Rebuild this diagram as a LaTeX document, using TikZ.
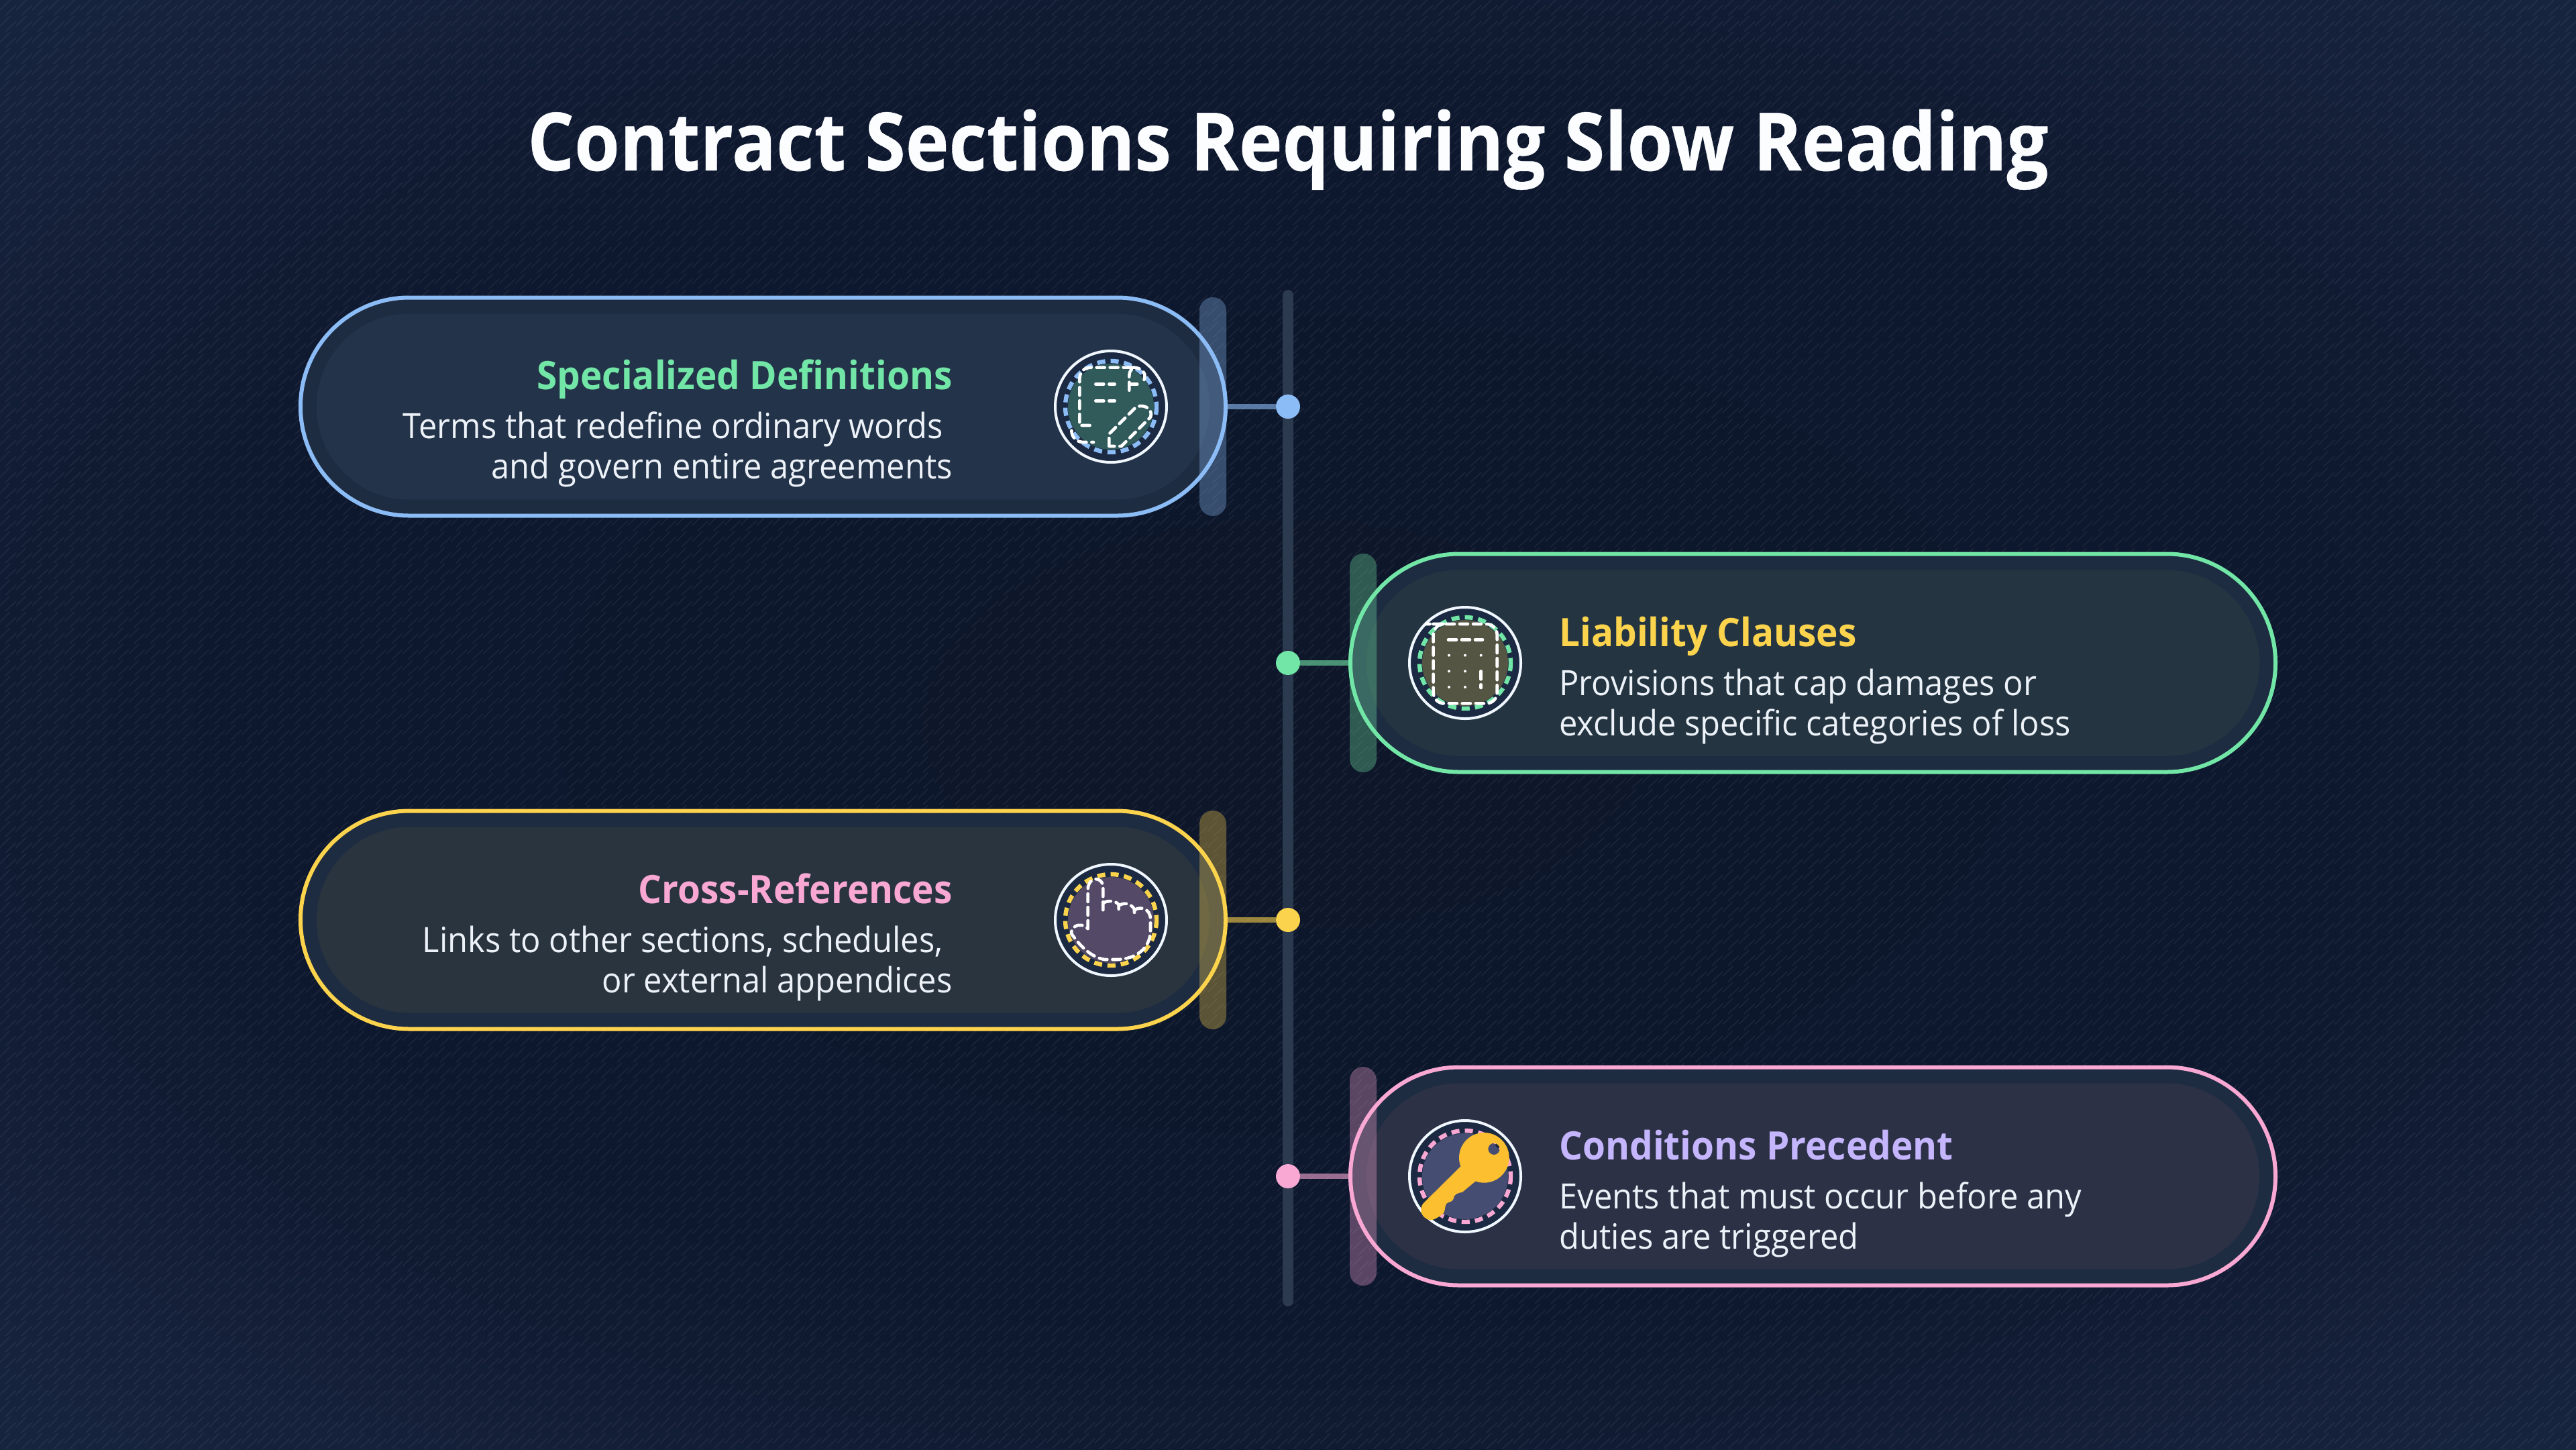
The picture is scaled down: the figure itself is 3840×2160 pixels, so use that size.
\documentclass[tikz,border=0pt]{standalone}
\usepackage{fontspec}
\setmainfont[FakeStretch=0.94]{Open Sans}
\newfontfamily\titlefont[FakeStretch=0.913,FakeBold=0.35]{Open Sans Bold}
\definecolor{rowblue}{HTML}{8CBCF5}
\definecolor{rowgreen}{HTML}{72E6A6}
\definecolor{rowyellow}{HTML}{FCD34D}
\definecolor{rowpink}{HTML}{F9A8D4}
\definecolor{rowpurple}{HTML}{C4B5FD}
\definecolor{pillouter}{HTML}{1E2C41}
\definecolor{innerblue}{HTML}{233349}
\definecolor{innergreen}{HTML}{243541}
\definecolor{inneryellow}{HTML}{2A343F}
\definecolor{innerpink}{HTML}{2C3146}
\definecolor{badgefill}{HTML}{1B2A42}
\definecolor{bodytext}{HTML}{EDF2F9}
\definecolor{keygold}{HTML}{FBBF2F}
\definecolor{bgmid}{HTML}{0E1629}
\definecolor{bgedge}{HTML}{0D172D}
\definecolor{bgring}{HTML}{15203A}
\definecolor{bgcorner}{HTML}{17243E}
\tikzstyle{pill}=[rectangle,rounded corners=81pt,minimum width=689.5pt,minimum height=162.5pt,line width=3pt,outer sep=0pt,inner sep=0pt,fill=pillouter]
\tikzstyle{pillcore}=[rectangle,rounded corners=69pt,minimum width=665.5pt,minimum height=138.5pt,outer sep=0pt,inner sep=0pt]
\tikzstyle{sidebar}=[rectangle,rounded corners=10pt,minimum width=20pt,minimum height=163pt,outer sep=0pt,inner sep=0pt,fill opacity=0.33]
\tikzstyle{dot}=[circle,minimum size=18pt,outer sep=0pt,inner sep=0pt]
\tikzstyle{badge}=[circle,minimum size=83pt,line width=2pt,outer sep=0pt,inner sep=0pt,draw=white!88!rowblue,fill=badgefill]
\tikzstyle{link}=[line width=4pt,draw opacity=0.6]
\tikzstyle{spine}=[line width=8pt,line cap=round,draw={rgb,255:red,44;green,58;blue,80}]
\tikzstyle{hatchline}=[line width=1pt,draw=white,draw opacity=0.05]
\tikzstyle{iconline}=[line width=2.3pt,draw=white,line cap=round,dash pattern=on 6pt off 4pt]
\tikzstyle{heading}=[inner sep=0pt,font=\fontsize{29.2}{32}\selectfont\bfseries]
\tikzstyle{copyline}=[inner sep=0pt,text=bodytext,font=\fontsize{26}{30}\selectfont]
\newcommand{\drawrow}[7]
{
  % index, row y, pill x, bar x, stroke, core fill, badge x
  \node[pill, draw=#5](pill#1) at (#3,#2){};
  \node[pillcore, fill=#6] at (#3,#2){};
  \node[sidebar, fill=#5] at (#4,#2){};
  \node[dot, fill=#5](dot#1) at (1920,#2){};
  \draw[link, draw=#5] (pill#1) -- (dot#1);
  \node[badge](badge#1) at (#7,#2){};
}
\newcommand{\drawring}[4]
{
  \fill[#3, fill opacity=0.26] (#1,#2) circle[radius=64];
  \draw[#4, line width=3.2pt, dash pattern=on 6pt off 4pt] (#1,#2) circle[radius=68];
}
% ellipse band: steps, outer colour, inner colour, inner radius, radius span
\newcommand{\drawband}[5]
{
  \foreach \k in {#1,...,1}{
    \pgfmathsetmacro{\mixval}{100*\k/#1}
    \pgfmathsetmacro{\rr}{#4+#5*\k/#1}
    \fill[#2!\mixval!#3] (1920,1080) ellipse[x radius={2716*\rr},y radius={1528*\rr}];
  }
}
\begin{document}
\begin{tikzpicture}[x=0.5pt,y=-0.5pt]
	\useasboundingbox (0,0) rectangle (3840,2160);
	\begin{scope}
		\clip (-10,-10) rectangle (3850,2170);
		\fill[bgcorner] (-10,-10) rectangle (3850,2170);
		% vignette, outside in
		\drawband{4}{bgcorner}{bgring}{0.88}{0.12}
		\drawband{12}{bgring}{bgedge}{0.6}{0.28}
		\drawband{3}{bgedge}{bgmid}{0}{0.6}
	\end{scope}
	% background hatch
	\foreach \j in {0,...,90}{
		\draw[hatchline] \foreach \i in {0,...,160}{
			({24*\i},{24*\j+15}) -- ({24*\i+15},{24*\j})
			({24*\i+8},{24*\j+23}) -- ({24*\i+24},{24*\j+8})
		};
	}

	\node[inner sep=0pt, anchor=base, text=white!97!rowblue, font=\fontsize{60}{64}\titlefont](title) at (1920,254) {Contract Sections Requiring Slow Reading};

	\coordinate (spinetop) at (1920,440);
	\coordinate (spineend) at (1920,1939);
	\draw[spine] (spinetop) -- (spineend);

	\drawrow{1}{606}{1137.5}{1808}{rowblue}{innerblue}{1656}
	\drawrow{2}{988}{2702.5}{2032}{rowgreen}{innergreen}{2184}
	\drawrow{3}{1371}{1137.5}{1808}{rowyellow}{inneryellow}{1656}
	\drawrow{4}{1753}{2702.5}{2032}{rowpink}{innerpink}{2184}

	\drawring{1656}{606}{rowgreen}{rowblue}
	\drawring{2184}{988}{rowyellow}{rowgreen}
	\drawring{1656}{1371}{rowpink}{rowyellow}
	\drawring{2184}{1753}{rowpurple}{rowpink}

	% document and pencil
	\begin{scope}[shift={(1520,480)},scale=1/3]
		\draw[iconline] (500,203) -- (320,203) .. controls (285,203) and (268,225) .. (268,255) -- (268,462) -- (335,462);
		\draw[iconline] (232,485) .. controls (232,515) and (255,537) .. (285,537) -- (330,537);
		\draw[iconline] (500,203) .. controls (550,200) and (575,235) .. (550,270);
		\draw[iconline] (490,305) -- (490,240) .. controls (490,220) and (500,205) .. (520,203);
		\draw[iconline] (490,278) -- (535,278);
		\draw[iconline] (340,278) -- (425,278);
		\draw[iconline] (340,352) -- (425,352);
		\draw[iconline] (400,555) -- (400,500) -- (515,385) .. controls (545,360) and (600,385) .. (585,425) -- (455,555) -- cycle;
	\end{scope}

	% calculator
	\begin{scope}[shift={(2060,860)},scale=1/3]
		\draw[iconline,rounded corners=8pt] (240,210) -- (515,210) -- (515,565) -- (230,565) -- (230,210) -- cycle;
		\draw[iconline] (297,280) -- (450,280);
		\foreach \cx/\cy in {300/350,372/350,443/350,300/421,372/421,300/492,372/492}
			\fill[white] (\cx,\cy) circle[radius=6];
		\draw[iconline] (443,421) -- (443,495);
	\end{scope}

	% pointing hand
	\begin{scope}[shift={(1520,1240)},scale=1/3]
		\draw[iconline] (305,432) -- (305,260) .. controls (305,195) and (373,195) .. (373,250) -- (373,360);
		\draw[iconline] (373,318) .. controls (390,305) and (430,305) .. (443,325) -- (443,360);
		\draw[iconline] (443,330) .. controls (460,315) and (495,315) .. (513,345) -- (513,378);
		\draw[iconline] (513,350) .. controls (535,330) and (585,340) .. (585,390) -- (585,440) .. controls (585,520) and (520,570) .. (430,570) -- (380,570) .. controls (320,560) and (270,510) .. (232,455) .. controls (225,430) and (265,395) .. (305,432);
	\end{scope}

	% key
	\begin{scope}[shift={(2060,1620)},scale=1/3]
		\fill[keygold] (352,355) -- (185,520) .. controls (165,545) and (175,580) .. (205,592) .. controls (225,600) and (245,588) .. (275,565) .. controls (285,550) and (280,530) .. (290,520) .. controls (300,512) and (315,515) .. (320,500) .. controls (322,480) and (335,475) .. (360,470) -- (420,420) -- cycle;
		\fill[keygold,even odd rule] (457,316) circle[radius=112] (501,277) circle[radius=26];
	\end{scope}

	\node[heading, anchor=base east, text=rowgreen](head1) at (1420,580) {Specialized Definitions};
	\node[copyline, anchor=base east](copy1a) at (1406,653) {Terms that redefine ordinary words};
	\node[copyline, anchor=base east](copy1b) at (1420,713) {and govern entire agreements};

	\node[heading, anchor=base west, text=rowyellow](head2) at (2324,963) {Liability Clauses};
	\node[copyline, anchor=base west](copy2a) at (2324,1036) {Provisions that cap damages or};
	\node[copyline, anchor=base west](copy2b) at (2324,1096) {exclude specific categories of loss};

	\node[heading, anchor=base east, text=rowpink](head3) at (1420,1346) {Cross-References};
	\node[copyline, anchor=base east](copy3a) at (1406,1419) {Links to other sections, schedules,};
	\node[copyline, anchor=base east](copy3b) at (1420,1479) {or external appendices};

	\node[heading, anchor=base west, text=rowpurple](head4) at (2324,1728) {Conditions Precedent};
	\node[copyline, anchor=base west](copy4a) at (2324,1801) {Events that must occur before any};
	\node[copyline, anchor=base west](copy4b) at (2324,1861) {duties are triggered};
\end{tikzpicture}
\end{document}
